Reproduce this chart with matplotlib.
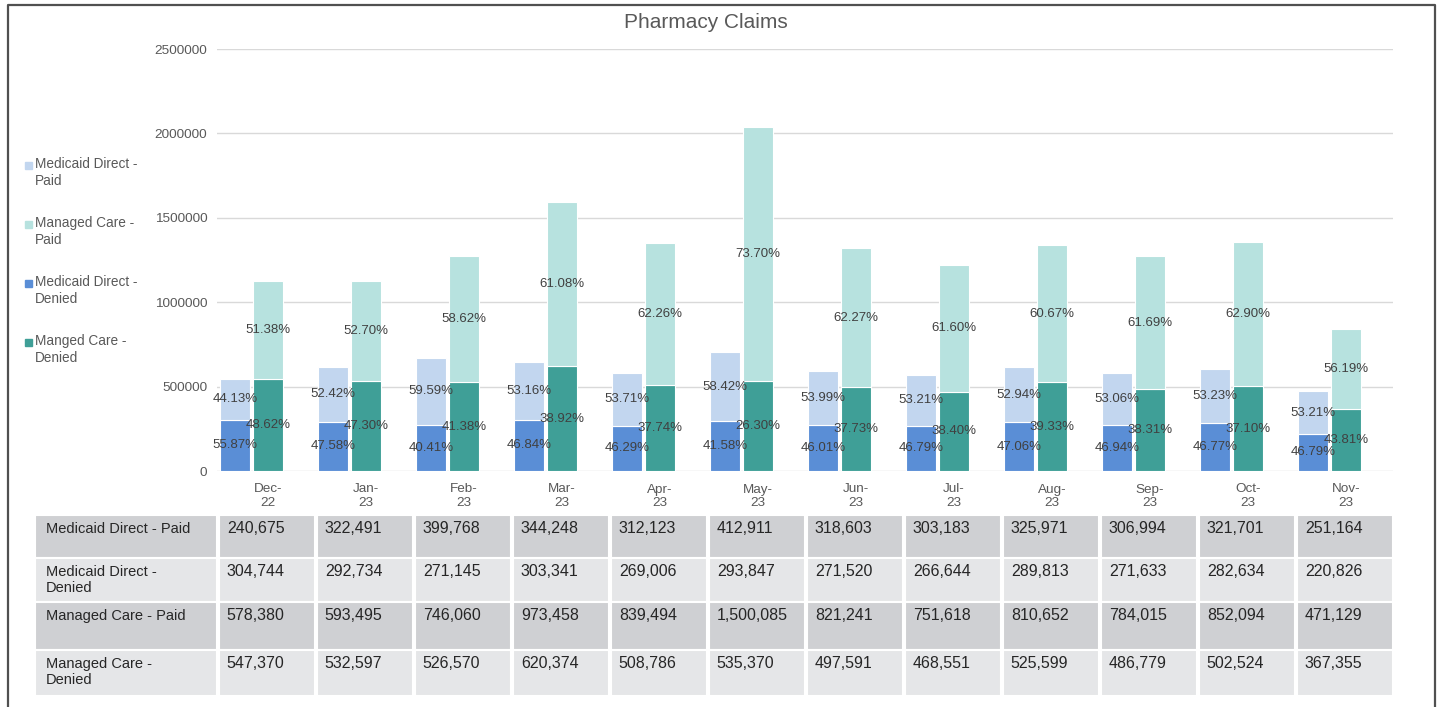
import matplotlib as mpl; mpl.use("Agg")
import matplotlib.pyplot as plt
from matplotlib.patches import Rectangle
import numpy as np

mpl.rcParams.update({"font.family": ["Liberation Sans", "DejaVu Sans"], "font.size": 9.5})

months = ["Dec-\n22", "Jan-\n23", "Feb-\n23", "Mar-\n23", "Apr-\n23", "May-\n23",
          "Jun-\n23", "Jul-\n23", "Aug-\n23", "Sep-\n23", "Oct-\n23", "Nov-\n23"]
md_paid = [240675, 322491, 399768, 344248, 312123, 412911, 318603, 303183, 325971, 306994, 321701, 251164]
md_denied = [304744, 292734, 271145, 303341, 269006, 293847, 271520, 266644, 289813, 271633, 282634, 220826]
mc_paid = [578380, 593495, 746060, 973458, 839494, 1500085, 821241, 751618, 810652, 784015, 852094, 471129]
mc_denied = [547370, 532597, 526570, 620374, 508786, 535370, 497591, 468551, 525599, 486779, 502524, 367355]
row_names = ["Medicaid Direct - Paid", "Medicaid Direct -\nDenied", "Managed Care - Paid", "Managed Care -\nDenied"]
legend_names = ["Medicaid Direct -\nPaid", "Managed Care -\nPaid", "Medicaid Direct -\nDenied", "Manged Care -\nDenied"]

C = dict(md_paid="#c2d6ef", md_denied="#5a8ed6", mc_paid="#b7e2df", mc_denied="#3f9f97",
         txt="#404040", grey="#595959", grid="#d9d9d9", row_dark="#cfd0d3", row_light="#e5e6e8")

W, H = 1443, 707
fig = plt.figure(figsize=(W / 100, H / 100), dpi=100)
def fx(px): return px / W
def fy(py): return 1 - py / H

# outer frame
fig.add_artist(plt.Line2D([fx(8), fx(8), fx(1435), fx(1435)], [0, fy(5), fy(5), 0],
                          color="#505050", lw=1.6, transform=fig.transFigure))

ax = fig.add_axes([fx(217), fy(471), fx(1393) - fx(217), fy(49) - fy(471)])
x = np.arange(len(months))
md_paid, md_denied = np.array(md_paid), np.array(md_denied)
mc_paid, mc_denied = np.array(mc_paid), np.array(mc_denied)
bw, off = 0.306, -0.337
ax.bar(x + off, md_denied, bw, color=C["md_denied"], edgecolor="white", lw=0.8, zorder=2)
ax.bar(x + off, md_paid, bw, bottom=md_denied, color=C["md_paid"], edgecolor="white", lw=0.8, zorder=2)
ax.bar(x, mc_denied, bw, color=C["mc_denied"], edgecolor="white", lw=0.8, zorder=2)
ax.bar(x, mc_paid, bw, bottom=mc_denied, color=C["mc_paid"], edgecolor="white", lw=0.8, zorder=2)

md_tot, mc_tot = md_paid + md_denied, mc_paid + mc_denied
for i in x:
    for xx, lo, hi, tot in [(i + off, md_denied[i], md_paid[i], md_tot[i]),
                            (i, mc_denied[i], mc_paid[i], mc_tot[i])]:
        ax.text(xx, lo / 2, f"{lo / tot * 100:.2f}%", ha="center", va="center", color=C["txt"], zorder=4)
        ax.text(xx, lo + hi / 2, f"{hi / tot * 100:.2f}%", ha="center", va="center", color=C["txt"], zorder=4)

ax.set_xlim(-0.52, 11.48)
ax.set_ylim(0, 2500000)
ax.set_yticks(np.arange(0, 2500001, 500000))
ax.set_yticklabels([str(v) for v in range(0, 2500001, 500000)])
ax.set_xticks(x)
ax.set_xticklabels(months, linespacing=1.15)
ax.tick_params(length=0, colors=C["grey"], labelsize=9.7)
ax.tick_params(axis="y", pad=7)
ax.tick_params(axis="x", pad=9)
ax.grid(axis="y", color=C["grid"], lw=1, zorder=0)
for s in ax.spines.values():
    s.set_visible(False)

fig.text(fx(706), fy(22), "Pharmacy Claims", ha="center", va="center", fontsize=15, color=C["grey"])

# legend
for k, (name, col) in enumerate(zip(legend_names, [C["md_paid"], C["mc_paid"], C["md_denied"], C["mc_denied"]])):
    ytop = 157 + k * 59
    fig.add_artist(Rectangle((fx(25), fy(ytop + 12)), fx(7), fy(0) - fy(7), color=col,
                             transform=fig.transFigure))
    fig.text(fx(35), fy(ytop), name, ha="left", va="top", fontsize=9.8, color=C["grey"], linespacing=1.25)

# data table
tax = fig.add_axes([fx(35), fy(696), fx(1393) - fx(35), fy(515) - fy(696)])
x0 = -0.52 - (217 - 35) / 98
tax.set_xlim(x0, 11.48)
row_edges = [0, 43, 87, 135, 181]
tax.set_ylim(181, 0)
tax.axis("off")
rows = [md_paid, md_denied, mc_paid, mc_denied]
for r, (name, vals) in enumerate(zip(row_names, rows)):
    y0, y1 = row_edges[r], row_edges[r + 1]
    col = C["row_dark"] if r % 2 == 0 else C["row_light"]
    tax.add_patch(Rectangle((x0, y0), -0.52 - x0, y1 - y0, facecolor=col, edgecolor="white", lw=1.5))
    tax.text(x0 + 0.11, y0 + 7, name, ha="left", va="top", fontsize=10.5, color="#262626", linespacing=1.2)
    for i, v in enumerate(vals):
        tax.add_patch(Rectangle((i - 0.5, y0), 0.98, y1 - y0, facecolor=col, edgecolor="white", lw=1.5))
        tax.text(i - 0.42, y0 + 6, f"{v:,}", ha="left", va="top", fontsize=11.5, color="#262626")

fig.savefig("out.png", dpi=100)
